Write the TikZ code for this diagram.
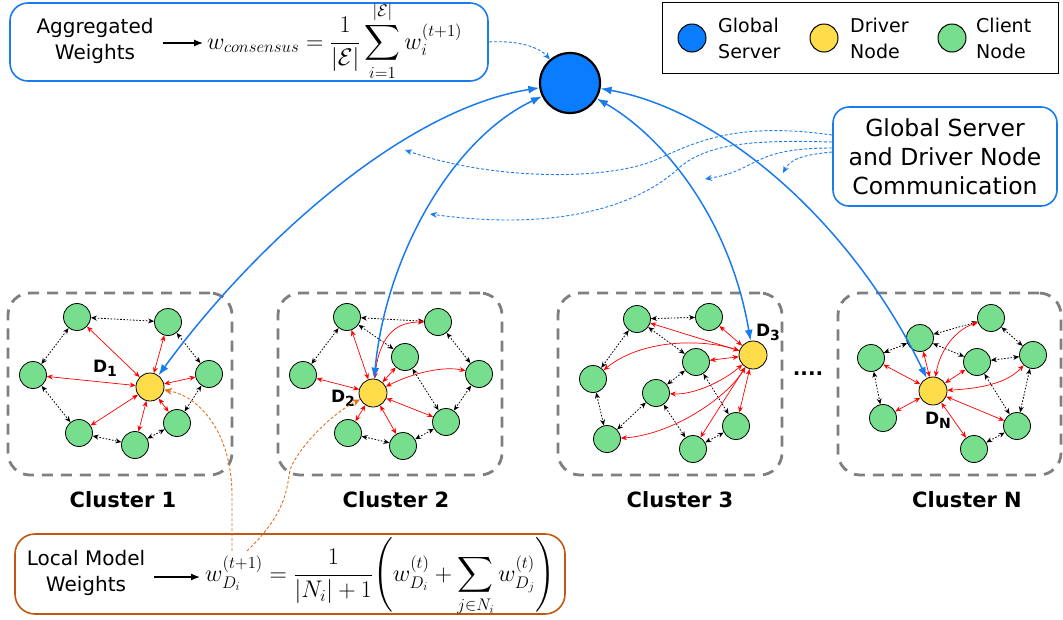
\documentclass[tikz,border=0pt]{standalone}
\usepackage{fix-cm}
\usepackage{amsmath}
\usepackage{fontspec}
\setsansfont{DejaVu Sans}
\usetikzlibrary{arrows.meta}
\definecolor{srvblue}{HTML}{0A7CFF}
\definecolor{lnblue}{HTML}{1A7BEF}
\definecolor{dyellow}{HTML}{FFDC4A}
\definecolor{cgreen}{HTML}{77DE8E}
\definecolor{obrown}{HTML}{C0590F}
\definecolor{odash}{HTML}{E07020}
\definecolor{gbox}{HTML}{7F7F7F}
\newcommand{\dlab}[1]{D\raisebox{-4pt}{\fontsize{14}{14}\selectfont #1}}
\tikzset{
 client/.style={circle, draw=black, line width=0.8pt, fill=cgreen, minimum size=27pt, inner sep=0pt},
 driver/.style={client, fill=dyellow, minimum size=28pt},
 rl/.style={draw=red, line width=0.7pt, {Stealth[length=6pt,width=5pt]}-{Stealth[length=6pt,width=5pt]}},
 bl/.style={draw=black, line width=0.8pt, dash pattern=on 1.6pt off 1.6pt, {Stealth[length=6pt,width=5pt]}-{Stealth[length=6pt,width=5pt]}},
 clbox/.style={draw=gbox, line width=2.8pt, dash pattern=on 11pt off 8pt, rounded corners=22pt, minimum height=182pt, inner sep=0pt},
 bigarr/.style={draw=lnblue, line width=1.5pt, {Latex[length=11pt,width=8pt]}-{Latex[length=11pt,width=8pt]}},
 comarr/.style={draw=lnblue, line width=0.9pt, dash pattern=on 3pt off 2pt, -{Stealth[length=7pt,width=6pt]}},
 locarr/.style={draw=odash, line width=0.9pt, dash pattern=on 3pt off 2pt, -{Stealth[length=8pt,width=7pt]}},
 sf/.style={font=\sffamily\fontsize{20}{26}\selectfont, align=center, inner sep=0pt},
 lt/.style={font=\sffamily\fontsize{19}{26}\selectfont, align=left, inner sep=0pt, anchor=west},
 clab/.style={font=\sffamily\bfseries\fontsize{21}{25}\selectfont, inner sep=0pt},
 dl/.style={font=\sffamily\bfseries\fontsize{17}{20}\selectfont, inner sep=0pt},
 mth/.style={font=\fontsize{24}{28}\selectfont, inner sep=0pt, anchor=base west},
 lcirc/.style={circle, draw=black, line width=1pt, minimum size=28pt, inner sep=0pt},
 sarr/.style={line width=1.2pt, -{Latex[length=9pt,width=7pt]}},
}
\begin{document}
\begin{tikzpicture}[x=1pt,y=1pt]
\useasboundingbox (0,0) rectangle (1063,-619);
% legend
\node[draw=black, line width=1pt, minimum width=396pt, minimum height=71pt, inner sep=0pt] (leg) at (860,-37.5) {};
\node[lcirc, fill=srvblue] (lg1) at (692,-38) {};
\node[lt] (lt1) at (718,-38) {Global\\Server};
\node[lcirc, fill=dyellow] (lg2) at (824,-38) {};
\node[lt] (lt2) at (850,-38) {Driver\\Node};
\node[lcirc, fill=cgreen] (lg3) at (952,-38) {};
\node[lt] (lt3) at (976,-38) {Client\\Node};
% top box
\node[draw=lnblue, line width=1.6pt, rounded corners=18pt, minimum width=478pt, minimum height=78pt, inner sep=0pt] (aggbox) at (249,-42) {};
\node[sf] (aggt) at (95,-41) {Aggregated\\Weights};
\node[mth] (aggf) at (207,-49) {$\displaystyle w_{consensus} = \frac{1}{|\mathcal{E}|}\sum_{i=1}^{|\mathcal{E}|} w_i^{(t+1)}$};
\draw[sarr] ([xshift=9pt,yshift=-2pt]aggt.east) -- (203,-43);
% server
\node[circle, draw=black, line width=2.2pt, fill=srvblue, minimum size=60pt, inner sep=0pt] (srv) at (570,-83) {};
% comm box
\node[draw=lnblue, line width=1.6pt, rounded corners=16pt, minimum width=224pt, minimum height=99pt, inner sep=0pt, font=\sffamily\fontsize{23.5}{29}\selectfont, align=center] (comm) at (945,-156.5) {Global Server\\and Driver Node\\Communication};
% bottom box
\node[draw=obrown, line width=1.6pt, rounded corners=20pt, minimum width=550pt, minimum height=80pt, inner sep=0pt] (locbox) at (290,-574) {};
\node[sf] (loct) at (86,-573) {Local Model\\Weights};
\node[mth] (locf) at (205,-581) {$\displaystyle w_{D_i}^{(t+1)} = \frac{1}{|N_i|+1}\Biggl(w_{D_i}^{(t)} + \sum_{j\in N_i} w_{D_j}^{(t)}\Biggr)$};
\draw[sarr] ([xshift=9pt,yshift=-4pt]loct.east) -- (200,-577);
% cluster boxes
\node[clbox, minimum width=224pt] (k1) at (120,-384) {};
\node[clbox, minimum width=224pt] (k2) at (390,-384) {};
\node[clbox, minimum width=224pt] (k3) at (670,-384) {};
\node[clbox, minimum width=223pt] (k4) at (949.5,-384) {};
\node[clab] (kl1) at (123,-500) {Cluster 1};
\node[clab] (kl2) at (396,-500) {Cluster 2};
\node[clab] (kl3) at (680,-500) {Cluster 3};
\node[clab] (kl4) at (967,-500) {Cluster N};
\node[font=\sffamily\bfseries\fontsize{20}{20}\selectfont, inner sep=0pt] (dots) at (808,-374) {....};
% cluster 1
\node[client] (c1a) at (77,-317) {};
\node[client] (c1b) at (168,-322) {};
\node[client] (c1c) at (33,-375) {};
\node[client] (c1d) at (209,-374) {};
\node[client] (c1e) at (79,-433) {};
\node[client] (c1f) at (135,-445) {};
\node[client] (c1g) at (177,-423) {};
\node[driver] (D1) at (150,-387) {};
\node[dl] (L1) at (105,-368) {\dlab{1}};
\foreach \a/\b in {c1a/c1b, c1a/c1c, c1b/c1d, c1c/c1e, c1e/c1f, c1f/c1g, c1g/c1d}
  \draw[bl] (\a) -- (\b);
\foreach \b in {c1a, c1b, c1c, c1d, c1e, c1f, c1g}
  \draw[rl] (D1) -- (\b);
% cluster 2
\node[client] (c2a) at (347,-317) {};
\node[client] (c2b) at (438,-322) {};
\node[client] (c2c) at (303,-375) {};
\node[client] (c2h) at (405,-357) {};
\node[client] (c2d) at (479,-374) {};
\node[client] (c2e) at (348,-433) {};
\node[client] (c2f) at (403,-446) {};
\node[client] (c2g) at (446,-422) {};
\node[driver] (D2) at (373,-393) {};
\node[dl] (L2) at (343,-398) {\dlab{2}};
\foreach \a/\b in {c2a/c2b, c2a/c2c, c2a/c2h, c2b/c2d, c2d/c2g, c2h/c2g, c2e/c2f, c2f/c2g}
  \draw[bl] (\a) -- (\b);
\foreach \b in {c2a, c2c, c2h, c2e, c2f, c2g}
  \draw[rl] (D2) -- (\b);
\draw[rl] (D2) .. controls (380,-330) and (400,-322) .. (c2b);
\draw[rl] (D2) .. controls (415,-372) and (445,-366) .. (c2d);
% cluster 3
\node[client] (c3a) at (637,-319) {};
\node[client] (c3b) at (709,-317) {};
\node[client] (c3c) at (696,-362) {};
\node[client] (c3d) at (593,-379) {};
\node[client] (c3h) at (656,-393) {};
\node[client] (c3e) at (607,-439) {};
\node[client] (c3g) at (736,-426) {};
\node[client] (c3f) at (693,-449) {};
\node[driver] (D3) at (753,-355) {};
\node[dl] (L3) at (768,-332) {\dlab{3}};
\foreach \a/\b in {c3a/c3b, c3a/c3c, c3a/c3d, c3c/c3h, c3h/c3e, c3d/c3e, c3h/c3f, c3c/c3g, c3f/c3g}
  \draw[bl] (\a) -- (\b);
\foreach \b in {c3a, c3b, c3c, c3g, c3f}
  \draw[rl] (D3) -- (\b);
\draw[rl] (D3) .. controls (700,-338) and (640,-340) .. (c3d);
\draw[rl] (D3) .. controls (725,-380) and (695,-395) .. (c3h);
\draw[rl] (D3) .. controls (725,-400) and (670,-435) .. (c3e);
% cluster N
\node[client] (cNa) at (920,-338) {};
\node[client] (cNb) at (991,-318) {};
\node[client] (cNc) at (871,-358) {};
\node[client] (cNh) at (977,-362) {};
\node[client] (cNd) at (1033,-355) {};
\node[client] (cNe) at (883,-418) {};
\node[client] (cNg) at (1017,-426) {};
\node[client] (cNf) at (974,-449) {};
\node[driver] (DN) at (933,-391) {};
\node[dl] (L4) at (938,-420) {\dlab{N}};
\foreach \a/\b in {cNa/cNb, cNa/cNc, cNa/cNh, cNh/cNd, cNb/cNd, cNc/cNe, cNh/cNg, cNd/cNg, cNf/cNg}
  \draw[bl] (\a) -- (\b);
\foreach \b in {cNa, cNc, cNh, cNe, cNg, cNf}
  \draw[rl] (DN) -- (\b);
\draw[rl] (DN) .. controls (940,-350) and (955,-330) .. (cNb);
\draw[rl] (DN) .. controls (990,-388) and (1010,-380) .. (cNd);
% server links
\draw[bigarr] (srv) .. controls (400,-110) and (250,-250) .. (D1);
\draw[bigarr] (srv) .. controls (450,-140) and (385,-260) .. (D2);
\draw[bigarr] (srv) .. controls (665,-138) and (730,-220) .. (D3);
\draw[bigarr] (srv) .. controls (720,-110) and (850,-220) .. (DN);
% communication dashed
\coordinate (e1) at (405,-150);
\coordinate (e2) at (705,-179);
\coordinate (e3) at (783,-173);
\coordinate (e4) at (430,-214);
\draw[comarr] ([yshift=21.5pt]comm.west) .. controls (740,-122) and (700,-140) .. (660,-158) .. controls (610,-182) and (490,-180) .. (e1);
\draw[comarr] ([yshift=14.5pt]comm.west) .. controls (760,-140) and (710,-142) .. (680,-167) .. controls (640,-205) and (560,-232) .. (e4);
\draw[comarr] ([yshift=8.5pt]comm.west) .. controls (750,-148) and (760,-170) .. (e2);
\draw[comarr] ([yshift=4.5pt]comm.west) .. controls (800,-155) and (790,-160) .. (e3);
\draw[comarr] (aggbox.east) .. controls (520,-40) and (540,-48) .. (srv);
% local dashed
\coordinate (o1) at (232,-551);
\coordinate (o2) at (247,-551);
\draw[locarr] (o1) -- (232,-495) .. controls (232,-440) and (205,-398) .. (D1);
\draw[locarr] (o2) .. controls (295,-505) and (285,-478) .. (292,-465) .. controls (305,-440) and (335,-412) .. (D2);
\end{tikzpicture}
\end{document}
